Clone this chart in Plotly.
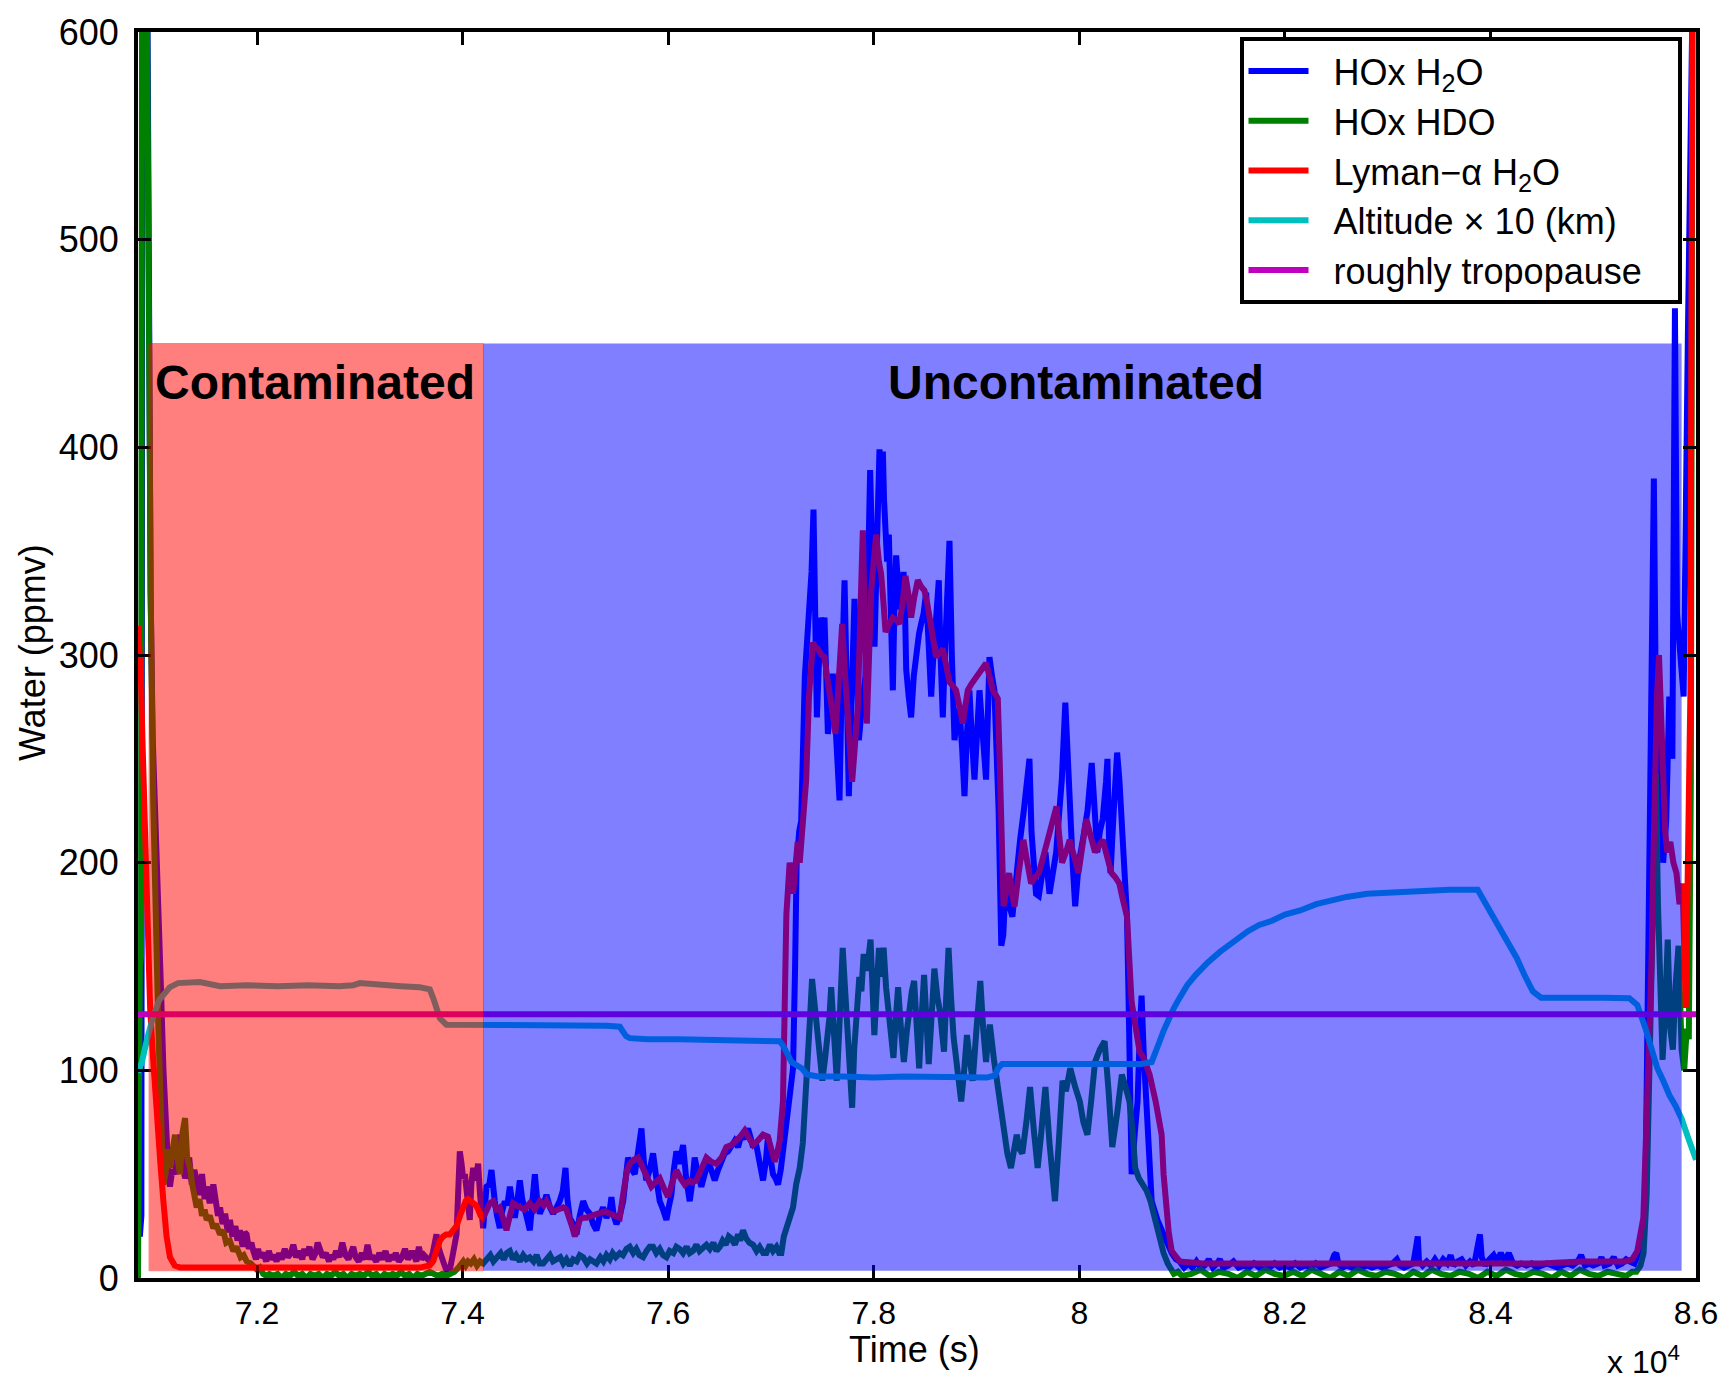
import plotly.graph_objects as go

# ---------------- data (time in s, water in ppmv) ----------------
hox_h2o = [
    (70842, 25), (70860, 20), (70875, 30), (70885, 650), (70930, 650), (70945, 450), (70965, 330),
    (70985, 260), (71010, 215), (71040, 181), (71065, 140), (71089, 101), (71110, 72), (71121, 61),
    (71140, 48), (71153, 44), (71175, 52), (71202, 50), (71225, 62), (71251, 69), (71275, 55),
    (71300, 48), (71315, 50), (71340, 58), (71365, 45), (71390, 52), (71413, 47), (71440, 40),
    (71465, 50), (71490, 38), (71510, 44), (71540, 36), (71575, 45), (71600, 38), (71620, 30),
    (71640, 34), (71665, 26), (71690, 31), (71715, 22), (71737, 28), (71760, 20), (71790, 25),
    (71810, 18), (71834, 23), (71860, 15), (71880, 22), (71899, 21), (71920, 14), (71945, 17),
    (71964, 13), (71990, 9), (72010, 14), (72030, 10), (72061, 12), (72090, 8), (72115, 13),
    (72140, 9), (72165, 11), (72190, 8), (72215, 12), (72240, 9), (72270, 14), (72300, 10),
    (72330, 12), (72353, 16), (72380, 10), (72410, 13), (72440, 9), (72460, 14), (72482, 11),
    (72510, 15), (72540, 9), (72570, 12), (72590, 17), (72612, 14), (72640, 10), (72670, 12),
    (72700, 8), (72720, 11), (72742, 9), (72770, 13), (72800, 10), (72830, 17), (72860, 11),
    (72890, 9), (72915, 13), (72936, 15), (72960, 10), (72990, 8), (73020, 12), (73050, 9),
    (73075, 16), (73100, 10), (73130, 10), (73160, 8), (73190, 12), (73220, 9), (73250, 13),
    (73280, 8), (73300, 11), (73325, 9), (73350, 12), (73380, 8), (73410, 10), (73440, 14),
    (73470, 9), (73500, 12), (73520, 12), (73550, 8), (73575, 15), (73600, 9), (73625, 11),
    (73649, 10), (73680, 8), (73710, 12), (73730, 17), (73746, 21), (73770, 14), (73790, 10),
    (73811, 8), (73840, 4), (73876, 4), (73900, 10), (73920, 15), (73941, 21), (73960, 45),
    (73973, 61), (73990, 55), (74005, 48), (74022, 50), (74045, 35), (74060, 30), (74070, 28),
    (74085, 45), (74103, 53), (74125, 47), (74151, 55), (74170, 40), (74183, 29), (74200, 24),
    (74233, 44), (74260, 45), (74281, 52), (74295, 40), (74313, 37), (74335, 30), (74362, 24),
    (74385, 32), (74411, 37), (74435, 35), (74460, 44), (74485, 36), (74508, 29), (74535, 38),
    (74557, 47), (74580, 38), (74605, 31), (74630, 28), (74654, 23), (74680, 35), (74703, 50),
    (74725, 38), (74751, 31), (74785, 35), (74816, 40), (74850, 34), (74881, 31), (74915, 34),
    (74945, 37), (74975, 42), (75001, 53), (75020, 38), (75043, 29), (75075, 26), (75108, 21),
    (75140, 30), (75173, 37), (75205, 33), (75238, 31), (75270, 26), (75302, 23), (75335, 30),
    (75367, 34), (75400, 29), (75430, 32), (75448, 39), (75470, 30), (75497, 26), (75530, 30),
    (75562, 37), (75590, 48), (75610, 58), (75640, 53), (75675, 50), (75705, 60), (75740, 72),
    (75765, 55), (75788, 47), (75820, 52), (75853, 60), (75885, 48), (75918, 37), (75950, 33),
    (75983, 28), (76005, 34), (76031, 40), (76055, 52), (76080, 61), (76110, 55), (76145, 64),
    (76175, 48), (76210, 37), (76235, 46), (76258, 58), (76290, 50), (76323, 44), (76355, 50),
    (76388, 56), (76420, 52), (76453, 47), (76485, 52), (76518, 56), (76550, 60), (76583, 61),
    (76615, 63), (76647, 66), (76680, 63), (76712, 69), (76745, 67), (76777, 72), (76800, 68),
    (76826, 63), (76850, 66), (76874, 60), (76900, 55), (76923, 47), (76950, 56), (76971, 68),
    (76995, 58), (77020, 50), (77045, 48), (77069, 45), (77095, 52), (77117, 61), (77140, 70),
    (77166, 85), (77190, 95), (77215, 101), (77235, 150), (77250, 200), (77275, 215), (77294, 220),
    (77330, 290), (77350, 305), (77375, 315), (77395, 340), (77414, 370), (77430, 330), (77447, 270),
    (77470, 300), (77489, 318), (77505, 312), (77521, 318), (77538, 290), (77554, 262), (77580, 275),
    (77602, 291), (77635, 260), (77667, 230), (77690, 290), (77716, 336), (77735, 290), (77758, 232),
    (77785, 280), (77813, 327), (77835, 300), (77855, 259), (77885, 275), (77920, 290), (77945, 340),
    (77965, 389), (77985, 350), (78008, 304), (78030, 350), (78056, 399), (78072, 390), (78089, 398),
    (78100, 375), (78115, 360), (78130, 345), (78147, 358), (78165, 330), (78186, 283), (78200, 320),
    (78218, 348), (78235, 335), (78251, 322), (78270, 330), (78290, 340), (78305, 320), (78316, 293),
    (78340, 280), (78364, 270), (78390, 290), (78413, 302), (78440, 310), (78461, 315), (78485, 320),
    (78510, 330), (78535, 300), (78559, 280), (78575, 295), (78591, 307), (78610, 320), (78633, 336),
    (78650, 300), (78672, 270), (78700, 310), (78737, 355), (78760, 300), (78786, 259), (78810, 270),
    (78834, 274), (78860, 255), (78883, 232), (78905, 260), (78931, 283), (78955, 260), (78980, 240),
    (79005, 262), (79029, 283), (79060, 262), (79093, 240), (79110, 270), (79126, 299), (79150, 290),
    (79174, 283), (79197, 251), (79215, 225), (79241, 160), (79260, 165), (79284, 190), (79315, 180),
    (79349, 174), (79385, 195), (79424, 211), (79460, 225), (79499, 243), (79515, 250), (79535, 215),
    (79553, 200), (79579, 185), (79606, 184), (79640, 195), (79671, 205), (79710, 185), (79746, 195),
    (79775, 205), (79800, 221), (79830, 240), (79864, 277), (79885, 250), (79907, 232), (79935, 200),
    (79960, 179), (79995, 200), (80035, 211), (80080, 225), (80121, 248), (80150, 225), (80175, 205),
    (80200, 215), (80228, 221), (80260, 239), (80274, 250), (80294, 200), (80304, 195), (80335, 225),
    (80368, 253), (80390, 240), (80422, 211), (80445, 190), (80464, 174), (80480, 133), (80489, 85),
    (80509, 50), (80540, 70), (80567, 85), (80590, 120), (80606, 136), (80626, 109), (80665, 70),
    (80704, 37), (80760, 28), (80821, 21), (80860, 15), (80899, 12), (80940, 9), (80977, 8),
    (81020, 5), (81060, 7), (81100, 5), (81140, 8), (81180, 5), (81220, 6), (81260, 9), (81300, 5),
    (81340, 7), (81368, 9), (81400, 5), (81450, 6), (81500, 8), (81550, 5), (81600, 6), (81650, 5),
    (81700, 7), (81750, 5), (81800, 6), (81850, 5), (81900, 7), (81950, 5), (82000, 6), (82050, 5),
    (82100, 7), (82150, 5), (82200, 6), (82250, 5), (82300, 7), (82350, 5), (82400, 6), (82450, 7),
    (82480, 11), (82500, 12), (82520, 7), (82560, 5), (82600, 6), (82650, 5), (82700, 6), (82750, 5),
    (82800, 6), (82850, 5), (82900, 6), (82950, 5), (83000, 6), (83050, 7), (83090, 9), (83120, 6),
    (83160, 5), (83200, 6), (83250, 7), (83280, 16), (83293, 20), (83305, 8), (83340, 6), (83380, 8),
    (83420, 6), (83460, 9), (83500, 6), (83540, 9), (83580, 7), (83613, 11), (83640, 6), (83680, 8),
    (83720, 9), (83760, 6), (83800, 8), (83840, 6), (83880, 16), (83898, 21), (83915, 10), (83950, 6),
    (83990, 9), (84030, 11), (84060, 8), (84101, 12), (84140, 8), (84179, 12), (84220, 7), (84260, 6),
    (84300, 7), (84350, 6), (84400, 7), (84450, 5), (84500, 6), (84550, 7), (84600, 6), (84650, 5),
    (84700, 6), (84750, 7), (84800, 6), (84850, 8), (84882, 11), (84920, 6), (84960, 7), (85000, 6),
    (85050, 7), (85080, 10), (85110, 6), (85160, 7), (85200, 10), (85240, 6), (85280, 7), (85320, 9),
    (85351, 8), (85400, 7), (85449, 13), (85490, 25), (85507, 35), (85527, 120), (85546, 240),
    (85565, 300), (85590, 385), (85605, 300), (85625, 230), (85650, 260), (85680, 200), (85710, 220),
    (85740, 280), (85770, 250), (85795, 467), (85815, 320), (85845, 300), (85880, 280), (85920, 450),
    (85950, 650), (85990, 700),
]

hox_hdo = [
    (70842, 0), (70850, 100), (70860, 150), (70872, 155), (70882, 650), (70925, 650), (70945, 450),
    (70965, 330), (70990, 230), (71010, 170), (71040, 120), (71065, 80), (71089, 45), (71110, 50),
    (71130, 62), (71153, 53), (71175, 60), (71202, 69), (71225, 58), (71251, 50), (71275, 70),
    (71300, 77), (71320, 58), (71348, 53), (71370, 45), (71390, 40), (71413, 34), (71440, 38),
    (71465, 30), (71490, 33), (71510, 28), (71540, 30), (71575, 24), (71600, 26), (71640, 21),
    (71670, 23), (71700, 17), (71735, 18), (71769, 13), (71800, 15), (71840, 10), (71870, 11),
    (71899, 8), (71940, 7), (71970, 5), (72000, 4), (72028, 5), (72060, 2), (72090, 1), (72120, 2),
    (72160, 1), (72200, 2), (72240, 0), (72280, 2), (72320, 1), (72360, 3), (72400, 1), (72440, 2),
    (72480, 0), (72520, 2), (72560, 1), (72600, 2), (72640, 0), (72680, 2), (72720, 1), (72760, 3),
    (72800, 1), (72840, 2), (72880, 0), (72920, 2), (72960, 1), (73000, 2), (73040, 1), (73080, 3),
    (73120, 1), (73160, 2), (73200, 0), (73240, 2), (73280, 1), (73320, 2), (73360, 1), (73400, 3),
    (73440, 1), (73480, 2), (73520, 0), (73560, 2), (73600, 1), (73640, 2), (73680, 3), (73720, 2),
    (73760, 1), (73800, 2), (73840, 1), (73880, 2), (73920, 3), (73960, 5), (74006, 8), (74030, 6),
    (74054, 8), (74080, 7), (74110, 9), (74140, 6), (74170, 8), (74200, 7), (74240, 9), (74270, 11),
    (74300, 8), (74330, 10), (74370, 12), (74400, 9), (74430, 12), (74460, 13), (74490, 9), (74520, 11),
    (74557, 8), (74590, 11), (74620, 9), (74654, 10), (74690, 8), (74720, 11), (74750, 7), (74784, 7),
    (74820, 9), (74850, 11), (74880, 8), (74913, 9), (74950, 10), (74980, 7), (75010, 9), (75043, 6),
    (75075, 9), (75110, 8), (75140, 11), (75173, 10), (75210, 7), (75240, 9), (75270, 8), (75302, 7),
    (75340, 10), (75370, 8), (75400, 11), (75432, 9), (75460, 12), (75490, 10), (75529, 12), (75560, 11),
    (75595, 14), (75626, 15), (75660, 12), (75690, 14), (75720, 11), (75756, 10), (75790, 13), (75820, 15),
    (75853, 15), (75885, 12), (75918, 14), (75950, 11), (75983, 10), (76015, 13), (76050, 12), (76080, 15),
    (76113, 14), (76145, 12), (76180, 15), (76210, 12), (76242, 13), (76275, 16), (76305, 13), (76340, 15),
    (76372, 16), (76405, 14), (76440, 17), (76470, 13), (76502, 15), (76530, 18), (76560, 16), (76590, 20),
    (76615, 19), (76650, 16), (76680, 21), (76700, 18), (76728, 23), (76760, 19), (76790, 17), (76826, 16),
    (76860, 13), (76890, 15), (76925, 12), (76955, 12), (76990, 16), (77020, 13), (77053, 15), (77080, 12),
    (77101, 12), (77125, 20), (77150, 24), (77183, 30), (77215, 34), (77245, 45), (77280, 53), (77310, 65),
    (77330, 80), (77345, 90), (77363, 109), (77380, 125), (77400, 144), (77425, 130), (77455, 120),
    (77478, 105), (77500, 95), (77525, 105), (77549, 114), (77568, 125), (77586, 140), (77610, 120),
    (77641, 95), (77665, 120), (77680, 145), (77698, 159), (77720, 140), (77746, 120), (77768, 100),
    (77790, 82), (77810, 110), (77835, 133), (77860, 145), (77880, 138), (77902, 156), (77935, 148),
    (77969, 163), (77988, 140), (78006, 117), (78030, 140), (78051, 159), (78073, 145), (78096, 159),
    (78120, 140), (78144, 128), (78168, 115), (78192, 106), (78215, 125), (78237, 140), (78265, 120),
    (78293, 104), (78320, 118), (78349, 132), (78370, 138), (78393, 143), (78420, 120), (78442, 101),
    (78465, 125), (78490, 146), (78512, 125), (78535, 103), (78562, 125), (78590, 149), (78620, 135),
    (78646, 128), (78665, 118), (78684, 109), (78705, 135), (78728, 159), (78752, 135), (78777, 116),
    (78815, 100), (78851, 85), (78880, 100), (78907, 117), (78935, 105), (78963, 95), (79000, 120),
    (79037, 143), (79065, 120), (79093, 104), (79110, 115), (79130, 122), (79170, 105), (79205, 92),
    (79235, 80), (79260, 72), (79300, 60), (79335, 53), (79365, 62), (79391, 69), (79420, 62),
    (79446, 60), (79485, 75), (79521, 92), (79560, 70), (79595, 53), (79630, 70), (79670, 92),
    (79710, 65), (79740, 45), (79763, 37), (79800, 65), (79837, 95), (79870, 90), (79912, 101),
    (79960, 92), (80005, 85), (80040, 75), (80079, 69), (80115, 85), (80153, 104), (80200, 110),
    (80246, 114), (80285, 90), (80321, 63), (80370, 80), (80414, 98), (80450, 92), (80488, 85),
    (80520, 70), (80544, 53), (80580, 48), (80619, 45), (80655, 42), (80693, 37), (80730, 30),
    (80768, 21), (80820, 12), (80860, 7), (80879, 5), (80920, 2), (80960, 3), (81000, 1), (81090, 2),
    (81180, 4), (81270, 1), (81360, 3), (81450, 2), (81540, 0), (81630, 3), (81720, 1), (81810, 4),
    (81900, 2), (81990, 1), (82080, 3), (82170, 1), (82260, 4), (82350, 2), (82440, 0), (82530, 3),
    (82620, 1), (82710, 4), (82800, 2), (82890, 1), (82980, 3), (83070, 2), (83160, 0), (83250, 3),
    (83340, 1), (83430, 4), (83520, 2), (83610, 1), (83700, 3), (83790, 2), (83880, 0), (83970, 3),
    (84060, 1), (84150, 4), (84240, 2), (84330, 1), (84420, 3), (84510, 2), (84600, 0), (84690, 3),
    (84780, 1), (84870, 4), (84960, 2), (85050, 1), (85140, 3), (85230, 2), (85320, 1), (85380, 3),
    (85420, 3), (85460, 6), (85490, 12), (85520, 40), (85545, 90), (85570, 150), (85592, 200),
    (85610, 243), (85630, 180), (85650, 152), (85675, 105), (85700, 130), (85725, 163), (85750, 120),
    (85775, 110), (85800, 140), (85830, 160), (85860, 110), (85885, 100), (85910, 120), (85930, 115),
    (85950, 240), (85965, 600), (85990, 700),
]

lyman_h2o = [
    (70842, 314), (70855, 305), (70870, 290), (70885, 260), (70900, 230), (70930, 170), (70960, 130),
    (70990, 105), (71024, 77), (71060, 55), (71089, 37), (71120, 20), (71153, 10), (71200, 6),
    (71251, 5), (71400, 5), (71600, 5), (71800, 5), (72000, 5), (72200, 5), (72400, 5), (72600, 5),
    (72800, 5), (73000, 5), (73200, 5), (73400, 5), (73584, 5), (73680, 6), (73714, 8), (73745, 13),
    (73779, 18), (73810, 20), (73840, 21), (73876, 21), (73910, 23), (73941, 25), (73975, 30),
    (74006, 34), (74030, 37), (74054, 38), (74080, 37), (74103, 36), (74130, 35), (74151, 33),
    (74175, 30), (74200, 29), (74230, 33), (74265, 36), (74300, 37), (74330, 33), (74362, 34),
    (74395, 28), (74427, 23), (74460, 30), (74492, 36), (74525, 35), (74557, 34), (74600, 33),
    (74654, 36), (74700, 33), (74751, 37), (74790, 35), (74816, 37), (74850, 34), (74881, 32),
    (74930, 33), (74978, 34), (75010, 33), (75043, 29), (75070, 24), (75092, 20), (75115, 24),
    (75140, 28), (75170, 29), (75205, 29), (75260, 30), (75335, 31), (75380, 32), (75432, 31),
    (75480, 30), (75529, 29), (75555, 38), (75578, 47), (75600, 52), (75626, 55), (75665, 57),
    (75707, 58), (75740, 54), (75772, 50), (75800, 47), (75837, 44), (75875, 46), (75918, 48),
    (75960, 43), (75999, 39), (76040, 46), (76080, 52), (76120, 48), (76161, 45), (76210, 47),
    (76240, 46), (76274, 47), (76320, 52), (76372, 58), (76420, 56), (76469, 55), (76520, 58),
    (76566, 63), (76615, 64), (76663, 66), (76700, 68), (76745, 71), (76790, 67), (76826, 64),
    (76870, 66), (76923, 69), (76971, 68), (77000, 62), (77036, 56), (77060, 60), (77085, 66),
    (77117, 85), (77135, 130), (77150, 175), (77182, 200), (77200, 195), (77215, 185), (77240, 200),
    (77260, 210), (77280, 200), (77300, 215), (77320, 230), (77343, 240), (77370, 280), (77390, 300),
    (77408, 306), (77430, 304), (77456, 303), (77490, 300), (77521, 299), (77545, 290), (77570, 283),
    (77600, 272), (77628, 262), (77660, 290), (77693, 315), (77715, 295), (77738, 275), (77765, 255),
    (77790, 239), (77815, 255), (77845, 275), (77870, 320), (77894, 360), (77915, 310), (77933, 267),
    (77955, 300), (77975, 331), (78000, 345), (78024, 358), (78050, 345), (78072, 339), (78095, 325),
    (78115, 311), (78150, 315), (78186, 318), (78220, 317), (78251, 315), (78280, 325), (78309, 338),
    (78335, 330), (78364, 318), (78395, 328), (78429, 336), (78460, 333), (78494, 331), (78520, 325),
    (78542, 318), (78575, 308), (78607, 299), (78640, 301), (78672, 303), (78705, 295), (78737, 287),
    (78770, 285), (78801, 283), (78835, 275), (78866, 267), (78890, 275), (78915, 283), (78950, 286),
    (78980, 288), (79010, 291), (79045, 293), (79070, 295), (79093, 296), (79125, 290), (79158, 283),
    (79185, 281), (79207, 279), (79225, 250), (79245, 200), (79263, 179), (79290, 187), (79317, 195),
    (79345, 185), (79370, 179), (79410, 195), (79456, 211), (79495, 200), (79531, 190), (79570, 193),
    (79606, 195), (79650, 203), (79692, 211), (79735, 218), (79778, 227), (79805, 213), (79832, 200),
    (79870, 205), (79907, 211), (79950, 203), (79992, 195), (80030, 208), (80068, 221), (80110, 213),
    (80153, 205), (80190, 208), (80228, 211), (80270, 203), (80314, 195), (80350, 193), (80389, 190),
    (80425, 182), (80464, 174), (80490, 150), (80509, 133), (80550, 120), (80587, 109), (80626, 106),
    (80684, 98), (80743, 85), (80801, 69), (80820, 50), (80840, 37), (80870, 22), (80899, 13),
    (80940, 10), (80977, 8), (81200, 7), (81500, 7), (81800, 7), (82100, 7), (82400, 7), (82700, 7),
    (83000, 7), (83300, 7), (83600, 7), (83900, 7), (84200, 7), (84500, 7), (84882, 8), (85100, 8),
    (85312, 8), (85380, 9), (85429, 13), (85488, 29), (85510, 60), (85527, 85), (85546, 120),
    (85566, 149), (85585, 200), (85600, 240), (85620, 280), (85640, 300), (85660, 270), (85680, 230),
    (85700, 215), (85720, 205), (85750, 210), (85780, 200), (85810, 195), (85840, 180), (85870, 190),
    (85900, 130), (85925, 230), (85945, 280), (85965, 600), (85990, 700),
]

altitude_x10 = [
    (70842, 99), (70880, 104), (70930, 115), (70990, 126), (71050, 134), (71089, 136), (71150, 140),
    (71230, 142), (71315, 142), (71445, 142.5), (71640, 140.5), (71900, 141), (72200, 140.5),
    (72500, 141), (72800, 140.5), (72936, 141), (73001, 142), (73200, 141), (73400, 140.5),
    (73584, 140), (73681, 139), (73720, 134), (73750, 129), (73779, 125), (73843, 122), (74000, 122),
    (74200, 121.5), (74500, 122), (74800, 121.5), (75100, 122), (75400, 121.5), (75529, 121),
    (75560, 119), (75590, 116.5), (75626, 115.5), (75800, 115), (76100, 115), (76400, 114.5),
    (76700, 114.5), (77000, 114), (77085, 114), (77117, 112), (77160, 108), (77200, 104),
    (77247, 102.5), (77300, 101), (77350, 98), (77457, 97), (77700, 97), (78000, 96.5), (78300, 97),
    (78600, 97), (78900, 96.5), (79100, 96.5), (79180, 97.5), (79210, 101), (79250, 103), (79500, 103),
    (79800, 103.5), (80100, 103), (80400, 103), (80600, 103), (80704, 104), (80740, 108), (80782, 114),
    (80820, 119), (80860, 124), (80920, 130), (80977, 135), (81050, 141), (81133, 146), (81250, 152),
    (81368, 157), (81500, 162), (81641, 167), (81750, 170), (81875, 172), (82000, 175), (82149, 177),
    (82305, 180), (82450, 182), (82600, 183.5), (82800, 185), (83017, 185.5), (83300, 186.5),
    (83600, 187), (83876, 187), (83945, 181), (84020, 175), (84101, 168), (84180, 161), (84257, 154),
    (84330, 146), (84413, 138), (84492, 135), (84700, 135), (84882, 135.5), (85100, 135), (85351, 134.7),
    (85429, 131.5), (85507, 120.4), (85565, 110), (85624, 101), (85690, 94), (85741, 88), (85800, 83),
    (85858, 77), (85920, 68), (85975, 60), (86000, 57),
]

tropopause = [(70842, 127), (86000, 127)]

region_edges = [70950, 74200, 85860]      # contaminated / uncontaminated spans (s)
region_bottom, region_top = 3.5, 450      # ppmv
region_labels = ["Contaminated", "Uncontaminated"]
label_pos = [(72568, 431), (79971, 431)]

x_tickvals = [72000, 74000, 76000, 78000, 80000, 82000, 84000, 86000]
x_ticktext = ["7.2", "7.4", "7.6", "7.8", "8", "8.2", "8.4", "8.6"]
y_tickvals = [0, 100, 200, 300, 400, 500, 600]

series = [
    ("HOx H<sub>2</sub>O", hox_h2o, "#0000ff"),
    ("HOx HDO", hox_hdo, "#008000"),
    ("Lyman\u2212\u03b1 H<sub>2</sub>O", lyman_h2o, "#ff0000"),
    ("Altitude \u00d7 10 (km)", altitude_x10, "#00bfbf"),
    ("roughly tropopause", tropopause, "#bf00bf"),
]

FONT = "Liberation Sans, Arial, Helvetica, sans-serif"
NB = "\u00a0"

fig = go.Figure()
for i, (name, pts, col) in enumerate(series):
    xs = [p[0] for p in pts]
    ys = [p[1] for p in pts]
    fig.add_trace(go.Scatter(x=xs, y=ys, mode="lines", name=NB * 2 + name + NB * 3,
                             legendgroup="g%d" % i,
                             line=dict(color=col, width=6)))

# translucent region overlays, drawn above the lines (as in the original)
fig.add_shape(type="rect", xref="x", yref="y", x0=region_edges[0], x1=region_edges[1],
              y0=region_bottom, y1=region_top, fillcolor="#ff0000", opacity=0.5,
              line=dict(width=1, color="#ff0000"), layer="above")
fig.add_shape(type="rect", xref="x", yref="y", x0=region_edges[1], x1=region_edges[2],
              y0=region_bottom, y1=region_top, fillcolor="#0000ff", opacity=0.5,
              line=dict(width=0), layer="above")

for txt, (lx, ly) in zip(region_labels, label_pos):
    fig.add_annotation(x=lx, y=ly, xref="x", yref="y", text="<b>" + txt + "</b>",
                       showarrow=False, font=dict(family=FONT, size=48, color="black"))

# axis titles and exponent
fig.add_annotation(x=0.4985, y=-0.0575, xref="paper", yref="paper", text="Time (s)",
                   xanchor="center", yanchor="middle",
                   showarrow=False, font=dict(family=FONT, size=36, color="black"))
fig.add_annotation(x=-0.0673, y=0.5017, xref="paper", yref="paper", text="Water (ppmv)",
                   xanchor="center", yanchor="middle",
                   textangle=-90, showarrow=False, font=dict(family=FONT, size=36, color="black"))
fig.add_annotation(x=0.966, y=-0.066, xref="paper", yref="paper", text="x 10<sup>4</sup>",
                   xanchor="center", yanchor="middle",
                   showarrow=False, font=dict(family=FONT, size=32, color="black"))

axis_common = dict(showline=True, linewidth=4, linecolor="black", mirror="ticks",
                   ticks="inside", ticklen=13, tickwidth=3, tickcolor="black",
                   showgrid=False, zeroline=False)

fig.update_xaxes(range=[70842, 86000], tickvals=x_tickvals, ticktext=x_ticktext,
                 ticklabelstandoff=4, tickfont=dict(family=FONT, size=32, color="black"),
                 **axis_common)
fig.update_yaxes(range=[0, 600], tickvals=y_tickvals, ticklabelstandoff=8,
                 tickfont=dict(family=FONT, size=36, color="black"), **axis_common)

fig.update_layout(
    width=1730, height=1384,
    margin=dict(l=138, r=33, t=27, b=106),
    plot_bgcolor="white", paper_bgcolor="white",
    font=dict(family=FONT, size=32, color="black"),
    showlegend=True,
    legend=dict(x=0.707, y=0.996, xanchor="left", yanchor="top",
                bgcolor="white", bordercolor="black", borderwidth=4,
                font=dict(family=FONT, size=36, color="black"),
                itemwidth=60, tracegroupgap=0),
)

fig.write_html("out.html", config={"displayModeBar": False},
               post_script="document.body.style.margin='0px';")
